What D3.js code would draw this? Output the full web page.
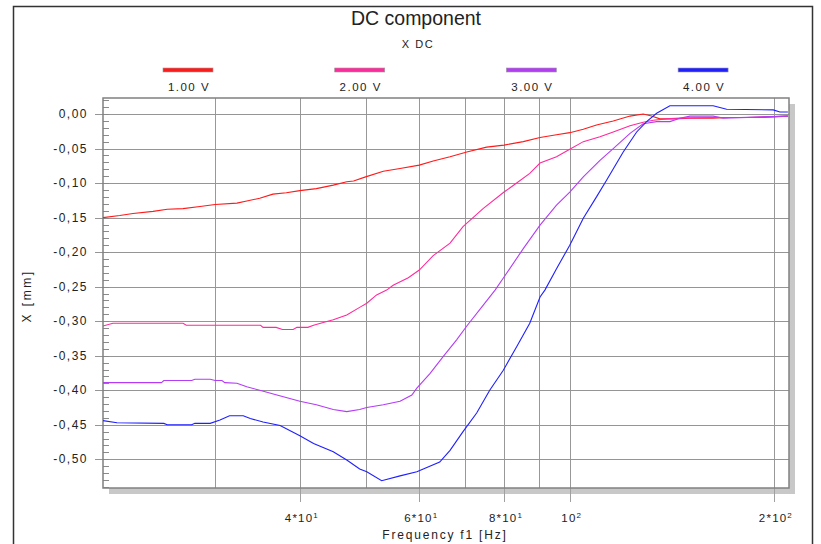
<!DOCTYPE html>
<html>
<head>
<meta charset="utf-8">
<script src="https://d3js.org/d3.v7.min.js"></script>
<style>
  body { margin: 0; background: #fff; }
  text { font-family: "Liberation Sans", Arial, sans-serif; fill: #222; }
</style>
</head>
<body>
<div id="vis"></div>
<script>
  // series names and colours
  var seriesNames = ["1.00 V", "2.00 V", "3.00 V", "4.00 V"]
  var seriesColors = ["#ff1a1a", "#ff2a9d", "#b43cf5", "#1f1fff"]

  // 1.00 V
  var freqRed = [20.5, 21.7, 22.7, 24.3, 25.5, 26.9, 28.5, 30, 32.3, 33.4, 34.9, 36.5, 38.2, 40, 42.3, 44.8, 46.9, 48, 50, 53.1, 56.2, 60, 62.9, 66.6, 70.5, 75.4, 80, 85.4, 90.4, 95.6, 100, 104.7, 109.5, 115.9, 122.7, 128.3, 132, 135.8, 142.1, 150.4, 162.7, 172.2, 190.7, 209.7]
  var valRed = [-0.150, -0.147, -0.144, -0.141, -0.138, -0.137, -0.134, -0.131, -0.129, -0.126, -0.122, -0.116, -0.114, -0.111, -0.108, -0.103, -0.098, -0.097, -0.091, -0.083, -0.079, -0.074, -0.068, -0.062, -0.055, -0.048, -0.045, -0.040, -0.034, -0.030, -0.027, -0.022, -0.016, -0.010, -0.003, 0.000, -0.003, -0.007, -0.007, -0.006, -0.006, -0.005, -0.005, -0.003]

  // 2.00 V
  var freqMag = [20.5, 21.2, 26.9, 27.2, 35, 35.3, 36.9, 37.7, 39.1, 39.6, 41.1, 41.9, 43.3, 44.8, 46.9, 49, 50.2, 51.9, 53.7, 54.9, 57.8, 60, 62.9, 66.6, 69.6, 74.5, 80, 83.5, 87.3, 90.4, 95.6, 100, 104.7, 110.8, 115.9, 122.7, 128.3, 132.8, 138.9, 145.3, 162.7, 182.3, 209.7]
  var valMag = [-0.307, -0.303, -0.303, -0.306, -0.306, -0.309, -0.309, -0.312, -0.312, -0.309, -0.309, -0.306, -0.302, -0.298, -0.291, -0.280, -0.274, -0.262, -0.255, -0.248, -0.237, -0.226, -0.205, -0.187, -0.163, -0.137, -0.113, -0.100, -0.086, -0.071, -0.062, -0.051, -0.040, -0.033, -0.026, -0.017, -0.012, -0.009, -0.007, -0.006, -0.005, -0.005, -0.003]

  // 3.00 V
  var freqVio = [20.5, 25.0, 25.2, 27.7, 28.0, 29.5, 30.0, 30.7, 31.0, 32.3, 33.4, 34.9, 37.0, 40, 42.3, 44.8, 46.9, 49.0, 50.2, 53.1, 56.2, 58.5, 59.5, 62.2, 65.1, 68.1, 70.5, 74.5, 77.6, 80, 85.4, 90.4, 95.6, 100, 104.7, 110.8, 115.9, 122.7, 128.3, 134.3, 140.5, 145.3, 150.4, 162.7, 168.4, 209.7]
  var valVio = [-0.389, -0.389, -0.386, -0.386, -0.384, -0.384, -0.386, -0.386, -0.389, -0.390, -0.395, -0.400, -0.407, -0.416, -0.421, -0.428, -0.431, -0.428, -0.425, -0.421, -0.416, -0.407, -0.397, -0.376, -0.351, -0.327, -0.307, -0.277, -0.255, -0.236, -0.195, -0.161, -0.132, -0.113, -0.091, -0.067, -0.050, -0.028, -0.014, -0.011, -0.011, -0.006, -0.003, -0.003, -0.006, -0.003]

  // 4.00 V
  var freqBlue = [20.5, 21.5, 25.2, 25.5, 27.7, 28.0, 29.5, 30.5, 31.5, 33.0, 33.8, 35.3, 37.4, 40, 41.9, 44.8, 46.9, 49.0, 50.2, 52.8, 56.2, 59.5, 64.3, 66.6, 69.6, 72.9, 76.2, 79.8, 83.5, 87.3, 90.4, 91.9, 95.6, 100, 104.7, 109.5, 113.3, 119.9, 125.5, 129.8, 134.3, 140.5, 162.7, 170.3, 199.5, 204.1, 209.7]
  var valBlue = [-0.444, -0.447, -0.448, -0.450, -0.450, -0.448, -0.448, -0.443, -0.437, -0.437, -0.441, -0.446, -0.451, -0.466, -0.477, -0.489, -0.501, -0.514, -0.518, -0.531, -0.524, -0.518, -0.504, -0.487, -0.460, -0.433, -0.400, -0.371, -0.337, -0.303, -0.265, -0.255, -0.224, -0.190, -0.151, -0.120, -0.096, -0.055, -0.026, -0.011, 0.001, 0.012, 0.012, 0.007, 0.006, 0.003, 0.003]

  // axis ticks
  var yTicks = [0, -0.05, -0.10, -0.15, -0.20, -0.25, -0.30, -0.35, -0.40, -0.45, -0.50]
  var xGrid = [30, 40, 50, 60, 70, 80, 90, 100, 200]
  var xLabelTicks = [40, 60, 80, 100, 200]
  var xLabelBase = ["4*10", "6*10", "8*10", "10", "2*10"]
  var xLabelExp = ["1", "1", "1", "2", "2"]

  var W = 821, H = 544
  // plot box edges
  var pL = 103, pT = 98, pR = 789, pB = 488

  var svg = d3.select("#vis").append("svg")
    .attr("width", W).attr("height", H)

  // outer frame
  svg.append("rect")
    .attr("x", 13.5).attr("y", 6.5).attr("width", 799).attr("height", 560)
    .attr("fill", "none").attr("stroke", "#333").attr("stroke-width", 1.5)

  var x = d3.scaleLog().domain([20.5, 210.5]).range([pL, pR])
  var y = d3.scaleLinear().domain([-0.5416, 0.0232]).range([pB, pT])

  // shadow of the plot box
  svg.append("rect")
    .attr("x", pL + 6).attr("y", pT + 6)
    .attr("width", pR - pL).attr("height", pB - pT)
    .attr("fill", "#c8c8c8")
  svg.append("rect")
    .attr("x", pL).attr("y", pT)
    .attr("width", pR - pL).attr("height", pB - pT)
    .attr("fill", "#fff")

  // grid lines
  svg.append("g").selectAll("line")
    .data(xGrid).enter().append("line")
      .attr("x1", function(d) { return Math.round(x(d)) + 0.5 })
      .attr("x2", function(d) { return Math.round(x(d)) + 0.5 })
      .attr("y1", pT).attr("y2", pB)
      .attr("stroke", "#989898")
  svg.append("g").selectAll("line")
    .data(yTicks).enter().append("line")
      .attr("x1", pL - 8).attr("x2", pR)
      .attr("y1", function(d) { return Math.round(y(d)) + 0.5 })
      .attr("y2", function(d) { return Math.round(y(d)) + 0.5 })
      .attr("stroke", "#959595")

  // x tick marks below the box
  svg.append("g").selectAll("line")
    .data(xLabelTicks).enter().append("line")
      .attr("x1", function(d) { return Math.round(x(d)) + 0.5 })
      .attr("x2", function(d) { return Math.round(x(d)) + 0.5 })
      .attr("y1", pB).attr("y2", pB + 14)
      .attr("stroke", "#a0a0a0")

  // minor y ticks
  var minor = d3.range(2, -55, -1).map(function(d) { return d / 100 })
  svg.append("g").selectAll("line")
    .data(minor).enter().append("line")
      .attr("x1", pL).attr("x2", pL + 6)
      .attr("y1", function(d) { return Math.round(y(d)) + 0.5 })
      .attr("y2", function(d) { return Math.round(y(d)) + 0.5 })
      .attr("stroke", "#8a8a8a")

  // plot box border
  svg.append("rect")
    .attr("x", pL).attr("y", pT)
    .attr("width", pR - pL).attr("height", pB - pT)
    .attr("fill", "none").attr("stroke", "#808080").attr("stroke-width", 1.5)

  // y labels
  svg.append("g").selectAll("text")
    .data(yTicks).enter().append("text")
      .attr("x", 88).attr("y", function(d) { return y(d) + 4 })
      .attr("text-anchor", "end")
      .style("font-size", "12px").style("letter-spacing", "1.5px")
      .text(function(d) { return d3.format(".2f")(d).replace("−", "-").replace(".", ",") })

  // x labels
  var xl = svg.append("g").selectAll("text")
    .data(xLabelTicks).enter().append("text")
      .attr("x", function(d) { return x(d) + 2 }).attr("y", 522)
      .attr("text-anchor", "middle")
      .style("font-size", "11.5px").style("letter-spacing", "1.2px")
  xl.append("tspan").text(function(d, i) { return xLabelBase[i] })
  xl.append("tspan").attr("dy", -4).style("font-size", "8px")
    .text(function(d, i) { return xLabelExp[i] })

  // axis titles
  svg.append("text")
    .attr("x", 445).attr("y", 539).attr("text-anchor", "middle")
    .style("font-size", "12px").style("letter-spacing", "1.8px")
    .text("Frequency f1  [Hz]")
  svg.append("text")
    .attr("transform", "translate(31,296) rotate(-90)")
    .attr("text-anchor", "middle")
    .style("font-size", "12px").style("letter-spacing", "2.5px")
    .text("X  [mm]")

  // title
  svg.append("text")
    .attr("x", 416).attr("y", 25).attr("text-anchor", "middle")
    .style("font-size", "19.5px")
    .text("DC component")
  svg.append("text")
    .attr("x", 418).attr("y", 48).attr("text-anchor", "middle")
    .style("font-size", "11px").style("letter-spacing", "1.5px")
    .text("X  DC")

  // legend
  var leg = svg.append("g").selectAll("g")
    .data(seriesNames).enter().append("g")
      .attr("transform", function(d, i) { return "translate(" + (188 + i * 171.7) + ",0)" })
  leg.append("rect")
    .attr("x", -25).attr("y", 68).attr("width", 50).attr("height", 4)
    .attr("fill", function(d, i) { return seriesColors[i] })
    .attr("stroke", "#999").attr("stroke-width", 0.6)
  leg.append("text")
    .attr("x", 1).attr("y", 91).attr("text-anchor", "middle")
    .style("font-size", "11.5px").style("letter-spacing", "1.5px")
    .text(function(d) { return d })

  // curves
  svg.append("clipPath").attr("id", "clip")
    .append("rect").attr("x", pL).attr("y", pT)
    .attr("width", pR - pL).attr("height", pB - pT)

  var allFreq = [freqRed, freqMag, freqVio, freqBlue]
  var allVal = [valRed, valMag, valVio, valBlue]
  var line = d3.line()
    .x(function(d) { return x(d[0]) })
    .y(function(d) { return y(d[1]) })

  var curves = svg.append("g").attr("clip-path", "url(#clip)")
  for (var s = 0; s < 4; s++) {
    var pts = allFreq[s].map(function(f, i) { return [f, allVal[s][i]] })
    curves.append("path")
      .datum(pts)
      .attr("d", line)
      .attr("fill", "none")
      .attr("stroke", seriesColors[s])
      .attr("stroke-width", 1.1)
  }
</script>
</body>
</html>
